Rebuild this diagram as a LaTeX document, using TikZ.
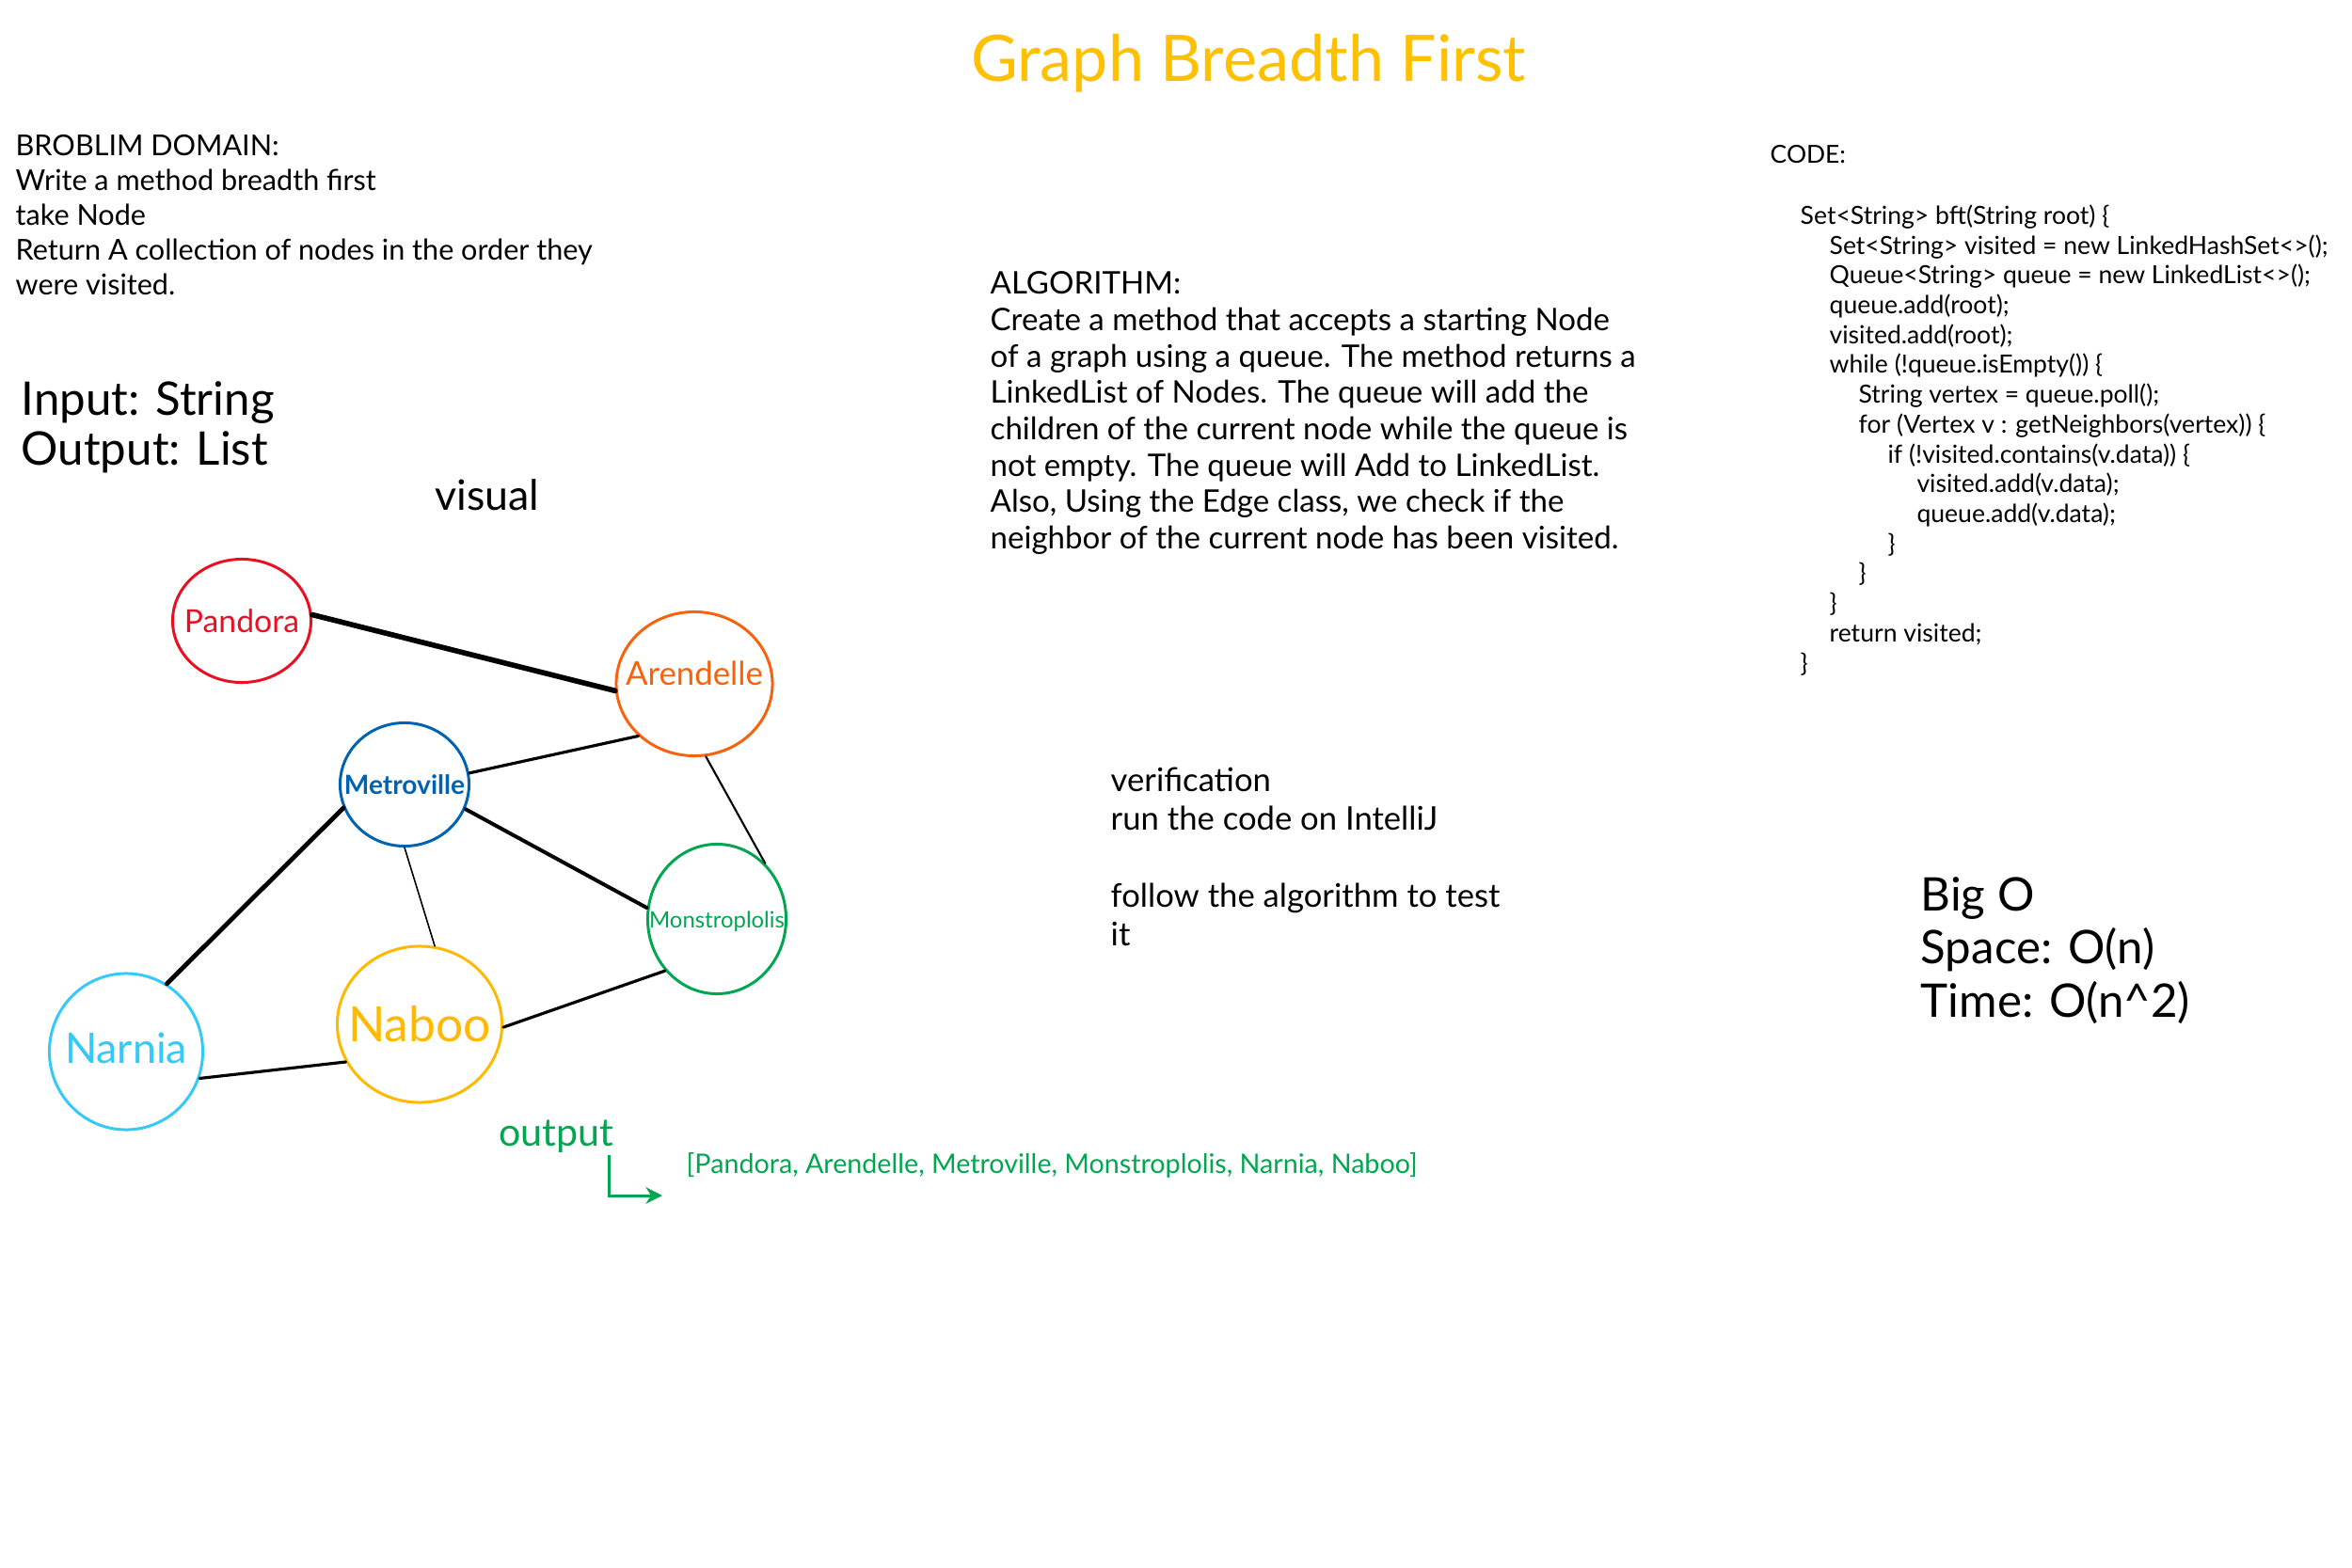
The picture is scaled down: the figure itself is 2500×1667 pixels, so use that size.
\documentclass[tikz,border=0pt]{standalone}
\usepackage{fontspec}
\setmainfont{Lato}
\usetikzlibrary{shapes.geometric,arrows.meta}
\definecolor{titleyellow}{RGB}{255,192,0}
\definecolor{cityred}{RGB}{232,17,35}
\definecolor{cityorange}{RGB}{247,99,12}
\definecolor{cityblue}{RGB}{0,99,177}
\definecolor{citygreen}{RGB}{0,166,80}
\definecolor{cityyellow}{RGB}{255,185,0}
\definecolor{citycyan}{RGB}{53,200,250}
\newcommand{\codeind}{\hspace*{8.8pt}}
\newcommand{\fs}[2]{\fontsize{#1}{#2}\selectfont}
\begin{document}
\begin{tikzpicture}[x=0.01cm,y=-0.01cm,
  city/.style={ellipse, draw, line width=0.85pt, inner sep=0pt},
  citylabel/.style={inner sep=0pt},
  txt/.style={inner sep=0pt, anchor=north west, align=left},
  edge/.style={line width=#1, line cap=round}]
\useasboundingbox[fill=white] (0,0) rectangle (2500,1667);

% title
\node[inner sep=0pt, text=titleyellow, font=\fs{19.4}{23}] (title) at (1327,67) {Graph Breadth First};

% problem domain
\node[txt, font=\fs{8.7}{10.5}] (domain) at (16,143) {BROBLIM DOMAIN:\\Write a method breadth first\\take Node\\Return A collection of nodes in the order they\\were visited.};

\node[txt, font=\fs{14}{15}] (io) at (22,405) {Input: String\\Output: List};

\node[inner sep=0pt, font=\fs{12.7}{15}] (visual) at (518,526) {visual};

% algorithm
\node[txt, font=\fs{9.4}{11}] (algo) at (1052,288) {ALGORITHM:\\Create a method that accepts a starting Node\\of a graph using a queue. The method returns a\\LinkedList of Nodes. The queue will add the\\children of the current node while the queue is\\not empty. The queue will Add to LinkedList.\\Also, Using the Edge class, we check if the\\neighbor of the current node has been visited.};

% code
\node[inner sep=0pt, anchor=west, font=\fs{7.5}{9}] (codehead) at (1881,164) {CODE:};
\node[txt, font=\fs{7.55}{9.02}] (code) at (1913,217) {Set<String> bft(String root) \{\\
\codeind Set<String> visited = new LinkedHashSet<>();\\
\codeind Queue<String> queue = new LinkedList<>();\\
\codeind queue.add(root);\\
\codeind visited.add(root);\\
\codeind while (!queue.isEmpty()) \{\\
\codeind\codeind String vertex = queue.poll();\\
\codeind\codeind for (Vertex v : getNeighbors(vertex)) \{\\
\codeind\codeind\codeind if (!visited.contains(v.data)) \{\\
\codeind\codeind\codeind\codeind visited.add(v.data);\\
\codeind\codeind\codeind\codeind queue.add(v.data);\\
\codeind\codeind\codeind \}\\
\codeind\codeind \}\\
\codeind \}\\
\codeind return visited;\\
\}};

% verification
\node[txt, font=\fs{9.85}{11.7}] (verif) at (1180,815) {verification\\run the code on IntelliJ\\[11.7pt]follow the algorithm to test\\it};

% big O
\node[txt, font=\fs{14}{16}] (bigo) at (2041,932) {Big O\\Space: O(n)\\Time: O(n\textasciicircum 2)};

% graph
\node[city, draw=cityred, minimum width=1.47cm, minimum height=1.31cm] (pandora) at (257,660) {};
\node[city, draw=cityorange, minimum width=1.66cm, minimum height=1.53cm] (arendelle) at (738,727) {};
\node[city, draw=cityblue, minimum width=1.37cm, minimum height=1.31cm] (metroville) at (430,834) {};
\node[city, draw=citygreen, minimum width=1.47cm, minimum height=1.59cm] (monstro) at (762,977) {};
\node[city, draw=cityyellow, minimum width=1.75cm, minimum height=1.66cm] (naboo) at (446,1089) {};
\node[city, draw=citycyan, minimum width=1.63cm, minimum height=1.66cm] (narnia) at (134,1118) {};

\node[citylabel, text=cityred, font=\fs{9.6}{11}] (pandoraL) at (pandora) {Pandora};
\node[citylabel, text=cityorange, font=\fs{9.9}{11}] (arendelleL) at ([yshift=0.11cm]arendelle.center) {Arendelle};
\node[citylabel, text=cityblue, font=\bfseries\fs{8}{10}] (metrovilleL) at (metroville) {Metroville};
\node[citylabel, text=citygreen, font=\fs{6.8}{8}] (monstroL) at ([yshift=-0.03cm]monstro.center) {Monstroplolis};
\node[citylabel, text=cityyellow, font=\fs{14.7}{16}] (nabooL) at (naboo) {Naboo};
\node[citylabel, text=citycyan, font=\fs{12.7}{14}] (narniaL) at ([yshift=0.04cm]narnia.center) {Narnia};

\draw[edge=1.6pt] (pandora.5) -- (arendelle.185);
\draw[edge=0.9pt] (metroville.10) -- (arendelle.223);
\draw[edge=0.6pt] (arendelle.279) -- (monstro.49);
\draw[edge=1.13pt] (metroville.338) -- (monstro.171);
\draw[edge=1.36pt] (metroville.201) -- (narnia.59);
\draw[edge=0.45pt] (metroville.270) -- (naboo.79);
\draw[edge=0.9pt] (naboo.358) -- (monstro.225);
\draw[edge=0.9pt] (narnia.340) -- (naboo.207);

% output
\node[inner sep=0pt, text=citygreen, font=\fs{11.7}{13}] (outlabel) at (591,1208) {output};
\coordinate (arrowstart) at (647,1228);
\coordinate (arrowend) at (704,1271);
\draw[citygreen, line width=0.85pt, -{Stealth[length=5pt,width=5pt]}] (arrowstart) |- (arrowend);
\node[inner sep=0pt, anchor=west, text=citygreen, font=\fs{8.15}{10}] (outlist) at (729,1239) {[Pandora, Arendelle, Metroville, Monstroplolis, Narnia, Naboo]};
\end{tikzpicture}
\end{document}
